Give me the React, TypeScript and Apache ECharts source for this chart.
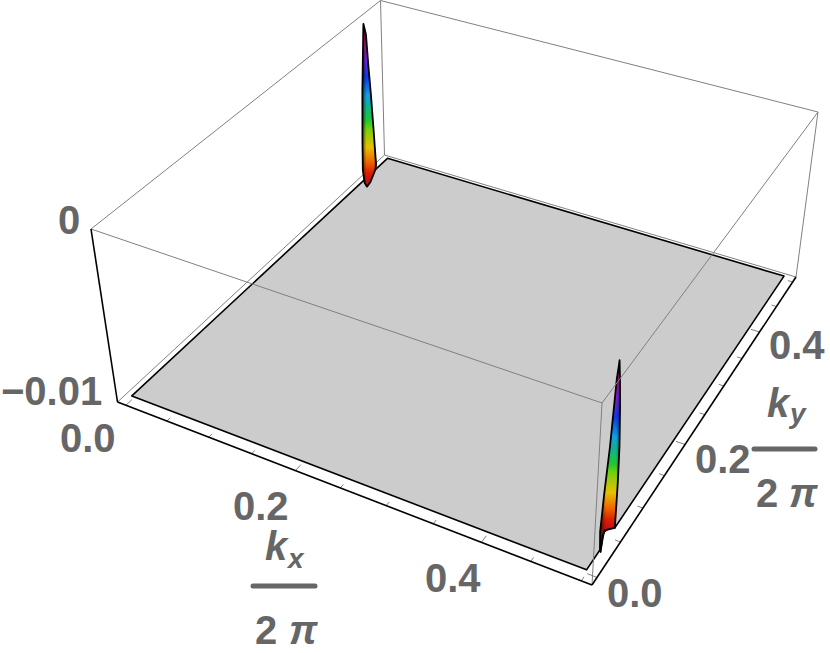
import React, { useEffect, useRef } from "react";
import * as echarts from "echarts";

// Axis ranges of the plotted box
const kRange = [-0.0104, 0.5104];
const zRange = [-0.0102, 0.0002];
const planeZ = -0.01;

// Ticks
const kTicks = [0, 0.05, 0.1, 0.15, 0.2, 0.25, 0.3, 0.35, 0.4, 0.45, 0.5];
const kMajor = [0, 0.2, 0.4];

// Surface outline: flat sheet with a notch beside the second peak
const planeKx = [0, 0.5, 0.5, 0.4937, 0.4956, 0.5, 0.5, 0];
const planeKy = [0, 0, 0.03, 0.0502, 0.0572, 0.0593, 0.5, 0.5];

// Peak near (0, 0.46): outline on the kx = 0 side
const peakAKy = [0.456, 0.4555, 0.449, 0.4455, 0.444, 0.447, 0.452, 0.46, 0.472, 0.474, 0.473, 0.47, 0.467, 0.4635, 0.4605];
const peakAZ = [0.0001, -0.0001, -0.00419, -0.00735, -0.00929, -0.0102, -0.0106, -0.0105, -0.01, -0.0097, -0.00918, -0.00694, -0.00485, -0.00286, -0.00072];

// Peak near (0.5, 0.045): outline on the kx = 0.5 side
const peakBKy = [0.0465, 0.046, 0.043, 0.04, 0.037, 0.03, 0.026, 0.028, 0.03, 0.032, 0.036, 0.06, 0.06, 0.06, 0.0585, 0.054, 0.05];
const peakBZ = [0.0002, 0, -0.00072, -0.00255, -0.00439, -0.00699, -0.00888, -0.01, -0.0102, -0.0094, -0.0092, -0.01, -0.0095, -0.00725, -0.00524, -0.00274, -0.00102];

// Colour by height, bottom to top
const rainbowStops = [0, 0.05, 0.12, 0.21, 0.33, 0.38, 0.47, 0.54, 0.66, 0.78, 0.88, 0.97];
const rainbowColors = ["#c81010", "#dd2200", "#ee6a00", "#e8c000", "#70d010", "#20c830", "#10b090", "#10a0e0", "#1038e8", "#7a20d8", "#c0108c", "#500028"];

const W = 830;
const H = 653;

type Pt = [number, number];
const bottomQuad: Pt[] = [[117.5, 402], [592, 585], [796, 277], [384.5, 155]];
const topQuad: Pt[] = [[91, 229], [602, 403], [818, 112], [380.5, 0.5]];

function homography(q: Pt[]) {
  const [[x0, y0], [x1, y1], [x2, y2], [x3, y3]] = q;
  const sx = x0 - x1 + x2 - x3, sy = y0 - y1 + y2 - y3;
  const dx1 = x1 - x2, dx2 = x3 - x2, dy1 = y1 - y2, dy2 = y3 - y2;
  const den = dx1 * dy2 - dx2 * dy1;
  const g = (sx * dy2 - dx2 * sy) / den;
  const h = (dx1 * sy - sx * dy1) / den;
  const a = x1 - x0 + g * x1, b = x3 - x0 + h * x3, d = y1 - y0 + g * y1, e = y3 - y0 + h * y3;
  return (u: number, v: number): Pt => {
    const w = g * u + h * v + 1;
    return [(a * u + b * v + x0) / w, (d * u + e * v + y0) / w];
  };
}
const bottomH = homography(bottomQuad);
const topH = homography(topQuad);

// 3D data point to 2D axis value
function project(kx: number, ky: number, z: number): Pt {
  const u = (kx - kRange[0]) / (kRange[1] - kRange[0]);
  const v = (ky - kRange[0]) / (kRange[1] - kRange[0]);
  const t = (z - zRange[0]) / (zRange[1] - zRange[0]);
  const p = bottomH(u, v), q = topH(u, v);
  return [p[0] + (q[0] - p[0]) * t, p[1] + (q[1] - p[1]) * t];
}

const [k0, k1] = kRange;
const [z0, z1] = zRange;
type Seg = number[];
const backEdges: Seg[] = [
  [k0, k0, z0, k0, k1, z0],
  [k0, k1, z0, k1, k1, z0],
  [k0, k1, z0, k0, k1, z1],
  [k0, k0, z1, k0, k1, z1],
  [k0, k1, z1, k1, k1, z1],
];
const frontEdges: Seg[] = [
  [k0, k0, z1, k1, k0, z1],
  [k1, k0, z1, k1, k1, z1],
  [k1, k0, z0, k1, k0, z1],
  [k1, k1, z0, k1, k1, z1],
];
const blackEdges: Seg[] = [
  [k0, k0, z0, k1, k0, z0],
  [k1, k0, z0, k1, k1, z0],
  [k0, k0, z0, k0, k0, z1],
];
const tickSegs: Seg[] = [];
kTicks.forEach((k) => {
  const len = kMajor.includes(k) ? 0.0095 : 0.0055;
  tickSegs.push([k, k0, z0, k, k0 + len, z0]);
  tickSegs.push([k1, k, z0, k1 - len, k, z0]);
});

function segSeries(data: Seg[], stroke: string, lineWidth: number) {
  return {
    type: "custom",
    coordinateSystem: "cartesian2d",
    silent: true,
    clip: false,
    encode: { x: 0, y: 1 },
    data,
    renderItem: (_: any, api: any) => {
      const a = api.coord(project(api.value(0), api.value(1), api.value(2)));
      const b = api.coord(project(api.value(3), api.value(4), api.value(5)));
      return { type: "line", shape: { x1: a[0], y1: a[1], x2: b[0], y2: b[1] }, style: { stroke, lineWidth, fill: "none" } };
    },
  };
}

function polySeries(points: () => Pt[], style: (api: any, pts: number[][]) => any) {
  return {
    type: "custom",
    coordinateSystem: "cartesian2d",
    silent: true,
    clip: false,
    encode: { x: 0, y: 1 },
    data: [[0, 0]],
    renderItem: (_: any, api: any) => {
      const pts = points().map((p) => api.coord(p));
      return { type: "polygon", shape: { points: pts }, style: style(api, pts) };
    },
  };
}

function peakSeries(kx: number, kys: number[], zs: number[], baseKy: number, baseZ: number) {
  return [
    polySeries(
      () => kys.map((v, i) => project(kx, v, zs[i])),
      (api) => {
        const a = api.coord(project(kx, baseKy, baseZ));
        const b = api.coord(project(kx, kys[0], zs[0]));
        return {
          fill: new echarts.graphic.LinearGradient(a[0], a[1], b[0], b[1],
            rainbowStops.map((offset, i) => ({ offset, color: rainbowColors[i] })), true),
          stroke: "#000",
          lineWidth: 1.8,
          lineJoin: "round",
        };
      },
    ),
    // shading toward the two sides of the ridge
    polySeries(
      () => kys.map((v, i) => project(kx, v, zs[i])),
      (_, pts) => {
        const xs = pts.map((p) => p[0]);
        return {
          fill: new echarts.graphic.LinearGradient(Math.min(...xs), 0, Math.max(...xs), 0, [
            { offset: 0, color: "rgba(0,0,0,0.55)" },
            { offset: 0.3, color: "rgba(0,0,0,0)" },
            { offset: 0.8, color: "rgba(0,0,0,0)" },
            { offset: 1, color: "rgba(0,0,0,0.4)" },
          ], true),
        };
      },
    ),
  ];
}

const TEXT = "#666666";
const FONT = '"Liberation Sans", Arial, sans-serif';
function label(text: string, x: number, baseline: number, size = 40, italic = false) {
  return {
    type: "text",
    silent: true,
    x,
    y: baseline,
    style: {
      text,
      fill: TEXT,
      font: `${italic ? "italic " : ""}bold ${size}px ${FONT}`,
      align: "left",
      verticalAlign: "bottom",
    },
  };
}
function bar(x1: number, x2: number, y: number) {
  return {
    type: "line",
    silent: true,
    shape: { x1, y1: y, x2, y2: y },
    style: { stroke: TEXT, lineWidth: 5, lineCap: "round" },
  };
}

const dy = 8;
const graphics = [
  label("0", 58, 232 + dy),
  label("\u22120.01", 1, 403 + dy),
  label("0.0", 60, 450 + dy),
  label("0.2", 233, 518 + dy),
  label("0.4", 425, 590 + dy),
  label("0.0", 607, 605 + dy),
  label("0.2", 695, 471 + dy),
  label("0.4", 769, 357 + dy),
  label("k", 265, 558 + dy, 40, true),
  label("x", 288, 567 + dy * 0.7, 28, true),
  bar(253, 315, 586),
  label("2", 255, 642 + dy),
  label("\u03c0", 289, 642 + dy, 40, true),
  label("k", 767, 415 + dy, 40, true),
  label("y", 790, 422 + dy * 0.7, 28, true),
  bar(754, 815, 449),
  label("2", 756, 505 + dy),
  label("\u03c0", 789, 505 + dy, 40, true),
];

export default function App() {
  const ref = useRef<HTMLDivElement>(null);
  useEffect(() => {
    const chart = echarts.init(ref.current!, undefined, { renderer: "svg" });
    chart.setOption({
      animation: false,
      backgroundColor: "#fff",
      grid: { left: 0, right: 0, top: 0, bottom: 0 },
      xAxis: { type: "value", min: 0, max: W, show: false },
      yAxis: { type: "value", min: 0, max: H, inverse: true, show: false },
      series: [
        segSeries(backEdges, "#808080", 1),
        polySeries(
          () => planeKx.map((k, i) => project(k, planeKy[i], planeZ)),
          () => ({ fill: "#cccccc", stroke: "#000", lineWidth: 1.6, lineJoin: "round" }),
        ),
        ...peakSeries(0, peakAKy, peakAZ, 0.465, -0.0105),
        ...peakSeries(0.5, peakBKy, peakBZ, 0.06, -0.01),
        segSeries(frontEdges, "#808080", 1),
        segSeries(tickSegs, "#808080", 1),
        segSeries(blackEdges, "#000", 1.6),
      ],
      graphic: graphics,
    });
    return () => chart.dispose();
  }, []);
  return <div ref={ref} style={{ position: "fixed", left: 0, top: 0, width: W, height: H }} />;
}
